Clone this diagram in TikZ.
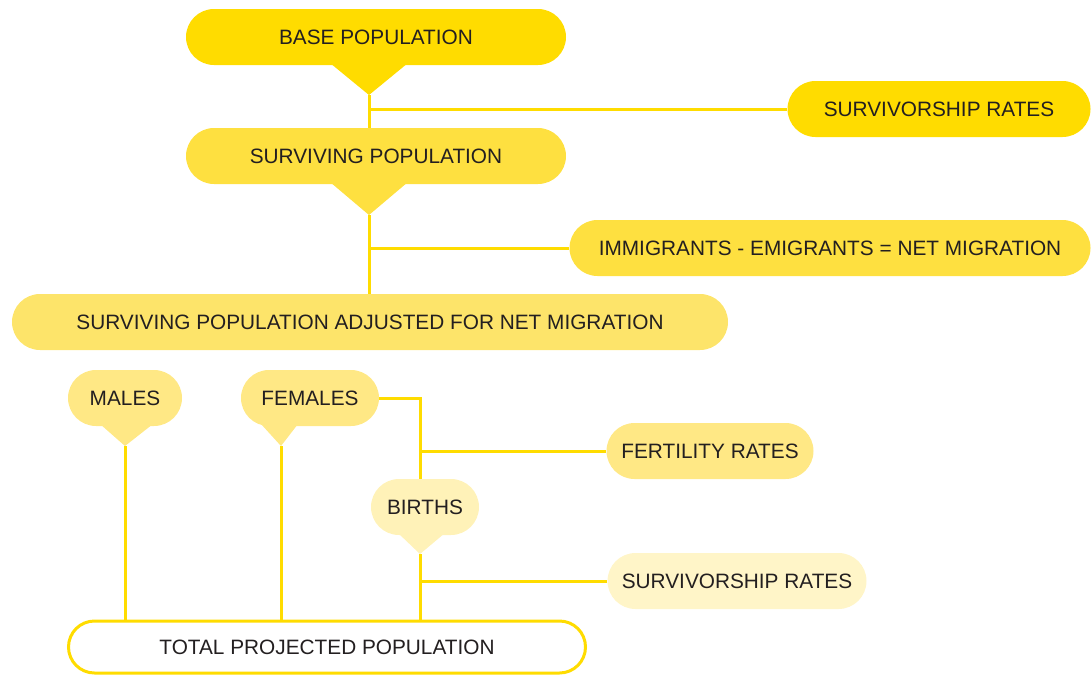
\documentclass[tikz,border=0pt]{standalone}
\usepackage{fontspec}
\setmainfont{Liberation Sans}
\usetikzlibrary{backgrounds}
\definecolor{ya}{HTML}{FFDC00}
\definecolor{yb}{HTML}{FEE040}
\definecolor{yc}{HTML}{FDE46A}
\definecolor{yd}{HTML}{FFE885}
\definecolor{ye}{HTML}{FFF2B8}
\definecolor{yf}{HTML}{FFF5C8}
\definecolor{txt}{HTML}{231F20}
\begin{document}
\begin{tikzpicture}[x=1pt,y=-1pt,
  pill/.style={rounded corners=28pt, minimum height=56pt, inner sep=0pt,
    font=\fontsize{20.8}{24}\selectfont, text=txt},
  link/.style={draw=ya, line width=3pt}]
\useasboundingbox (0,0) rectangle (1092,675);
% nodes
\node[pill, fill=ya, minimum width=380pt] (bp) at (376,37) {BASE POPULATION};
\fill[ya] (330,63) -- (408,63) -- (369,95) -- cycle;
\coordinate (bpt) at (369,95);
\node[pill, fill=ya, minimum width=303pt] (sr1) at (939,109) {SURVIVORSHIP RATES};
\node[pill, fill=yb, minimum width=380pt] (sp) at (376,156) {SURVIVING POPULATION};
\fill[yb] (330,182) -- (408,182) -- (369,215) -- cycle;
\coordinate (spt) at (369,215);
\node[pill, fill=yb, minimum width=521pt] (im) at (830,248) {IMMIGRANTS - EMIGRANTS = NET MIGRATION};
\node[pill, fill=yc, minimum width=716pt] (adj) at (370,322) {SURVIVING POPULATION ADJUSTED FOR NET MIGRATION};
\node[pill, fill=yd, minimum width=114pt] (ma) at (125,398) {MALES};
\fill[yd] (100,424) -- (153,424) -- (125,446) -- cycle;
\coordinate (mt) at (125,446);
\node[pill, fill=yd, minimum width=138pt] (fe) at (310,398) {FEMALES};
\fill[yd] (261,424) -- (298,424) -- (281,446) -- cycle;
\coordinate (ft) at (281,446);
\node[pill, fill=yd, minimum width=207pt] (fr) at (710,451) {FERTILITY RATES};
\node[pill, fill=ye, minimum width=108pt] (bi) at (425,507) {BIRTHS};
\fill[ye] (398,533) -- (445,533) -- (420,554) -- cycle;
\coordinate (bt) at (420,554);
\node[pill, fill=yf, minimum width=259pt] (sr2) at (737,581) {SURVIVORSHIP RATES};
\node[pill, draw=ya, line width=3pt, fill=white, rounded corners=26pt,
  minimum width=517pt, minimum height=52pt] (tot) at (327,647) {TOTAL PROJECTED POPULATION};
% connectors
\begin{scope}[on background layer]
\draw[link] (bpt) -- (bpt |- sp.north);
\draw[link] (sr1.west) -- (sr1.west -| bpt);
\draw[link] (spt) -- (spt |- adj.north);
\draw[link] (im.west) -- (im.west -| spt);
\draw[link] (mt) -- (mt |- tot.north);
\draw[link] (ft) -- (ft |- tot.north);
\draw[link] (fe.east) -| (bt |- bi.north);
\draw[link] (fr.west) -- (fr.west -| bt);
\draw[link] (bt) -- (bt |- tot.north);
\draw[link] (sr2.west) -- (sr2.west -| bt);
\end{scope}
\end{tikzpicture}
\end{document}
